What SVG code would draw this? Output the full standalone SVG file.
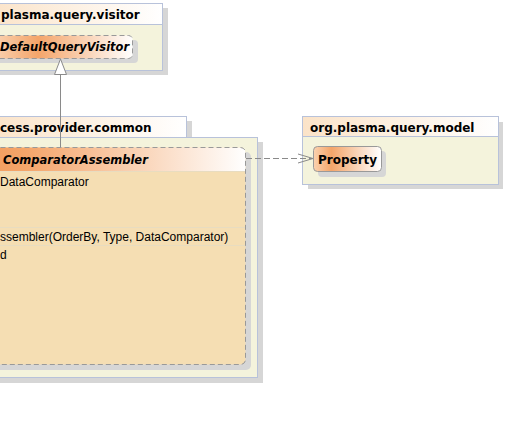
<svg xmlns="http://www.w3.org/2000/svg" width="506" height="421" viewBox="0 0 506 421">
<defs>
<linearGradient id="tabG" x1="0" y1="0" x2="1" y2="0">
<stop offset="0" stop-color="#fbe3c8"/>
<stop offset="1" stop-color="#ffffff"/>
</linearGradient>
<linearGradient id="gDQV" gradientUnits="userSpaceOnUse" x1="-20" y1="0" x2="133" y2="0">
<stop offset="0" stop-color="#fbe0c8"/>
<stop offset="0.38" stop-color="#f4a56a"/>
<stop offset="1" stop-color="#ffffff"/>
</linearGradient>
<linearGradient id="gCA" gradientUnits="userSpaceOnUse" x1="-30" y1="0" x2="246" y2="0">
<stop offset="0" stop-color="#f29a5a"/>
<stop offset="0.2" stop-color="#f4a56a"/>
<stop offset="1" stop-color="#ffffff"/>
</linearGradient>
<linearGradient id="gP" gradientUnits="userSpaceOnUse" x1="313" y1="0" x2="381" y2="0">
<stop offset="0" stop-color="#fbd3b2"/>
<stop offset="0.27" stop-color="#f4a56a"/>
<stop offset="1" stop-color="#ffffff"/>
</linearGradient>
<style>
.sh{fill:#d6d6d6;}
.tab{fill:url(#tabG);stroke:#b8c2da;stroke-width:1;}
.pbody{fill:#f4f3dc;stroke:#b8c2da;stroke-width:1;}
.ptxt{font-family:"DejaVu Sans",sans-serif;font-weight:bold;font-size:12px;fill:#000;}
.ctxt{font-family:"DejaVu Sans",sans-serif;font-weight:bold;font-size:12px;fill:#000;}
.itxt{font-style:italic;font-size:11.5px;}
.mtxt{font-family:"Liberation Sans",Arial,sans-serif;font-size:12px;fill:#000;}
.cls{stroke:#999;stroke-width:1;}
.dash{stroke-dasharray:5,3;}
.sep{stroke:#e8dcc0;stroke-width:1;}
.conn{fill:none;stroke:#8a8a8a;stroke-width:1;}
</style>
</defs>
<rect x="0" y="0" width="506" height="421" fill="#ffffff"/>

<g id="pkg-visitor">
<rect class="sh" x="-5" y="8" width="173" height="67"/>
<rect class="tab" x="-10.5" y="3.5" width="173" height="21"/>
<rect class="pbody" x="-10.5" y="24.5" width="173" height="46"/>
<text class="ptxt" x="1" y="19">plasma.query.visitor</text>
</g>

<g id="cls-DefaultQueryVisitor">
<rect class="sh" x="-15" y="40" width="153" height="23" rx="4"/>
<rect class="cls dash" x="-20.5" y="35.5" width="153" height="23" rx="4" fill="url(#gDQV)"/>
<text class="ctxt itxt" x="0" y="51">DefaultQueryVisitor</text>
</g>

<g id="pkg-common">
<rect class="sh" x="-5" y="121" width="197" height="21"/>
<rect class="sh" x="-5" y="142" width="268" height="241"/>
<rect class="tab" x="-10.5" y="116.5" width="197" height="21"/>
<rect class="pbody" x="-10.5" y="137.5" width="268" height="240"/>
<text class="ptxt" x="0" y="132">cess.provider.common</text>
</g>

<g id="cls-ComparatorAssembler">
<rect class="sh" x="-15" y="152" width="266" height="218" rx="5"/>
<rect x="-20.5" y="147.5" width="266" height="217" rx="5" fill="#f5deb3"/>
<path d="M-20.5,171.5 V152.5 a5,5 0 0 1 5,-5 H240.5 a5,5 0 0 1 5,5 V171.5 Z" fill="url(#gCA)"/>
<line class="sep" x1="-20" y1="171.5" x2="245" y2="171.5"/>
<line class="sep" x1="-20" y1="227.5" x2="245" y2="227.5"/>
<line class="sep" x1="-20" y1="245.5" x2="245" y2="245.5"/>
<rect class="cls dash" x="-20.5" y="147.5" width="266" height="217" rx="5" fill="none"/>
<text class="ctxt itxt" x="3" y="164">ComparatorAssembler</text>
<text class="mtxt" x="0" y="186">DataComparator</text>
<text class="mtxt" x="0" y="241">ssembler(OrderBy, Type, DataComparator)</text>
<text class="mtxt" x="0" y="259">d</text>
</g>

<g id="pkg-model">
<rect class="sh" x="308" y="122" width="195" height="67"/>
<rect class="tab" x="302.5" y="116.5" width="196" height="20"/>
<rect class="pbody" x="302.5" y="136.5" width="196" height="48"/>
<text class="ptxt" x="310" y="132">org.plasma.query.model</text>
</g>

<g id="cls-Property">
<rect class="sh" x="318" y="151" width="68" height="26" rx="4"/>
<rect class="cls" x="313.5" y="146.5" width="68" height="25" rx="4" fill="url(#gP)"/>
<text class="ctxt" x="318" y="164">Property</text>
</g>

<g id="connectors">
<line class="conn" x1="60.5" y1="74" x2="60.5" y2="147"/>
<polygon points="60.5,59 54.5,74.5 66.5,74.5" fill="#ffffff" stroke="#8a8a8a" stroke-width="1"/>
<line class="conn" x1="246" y1="158.5" x2="312" y2="158.5" stroke-dasharray="6,3"/>
<polyline class="conn" points="298,154 313,158.5 298,163"/>
</g>
</svg>
